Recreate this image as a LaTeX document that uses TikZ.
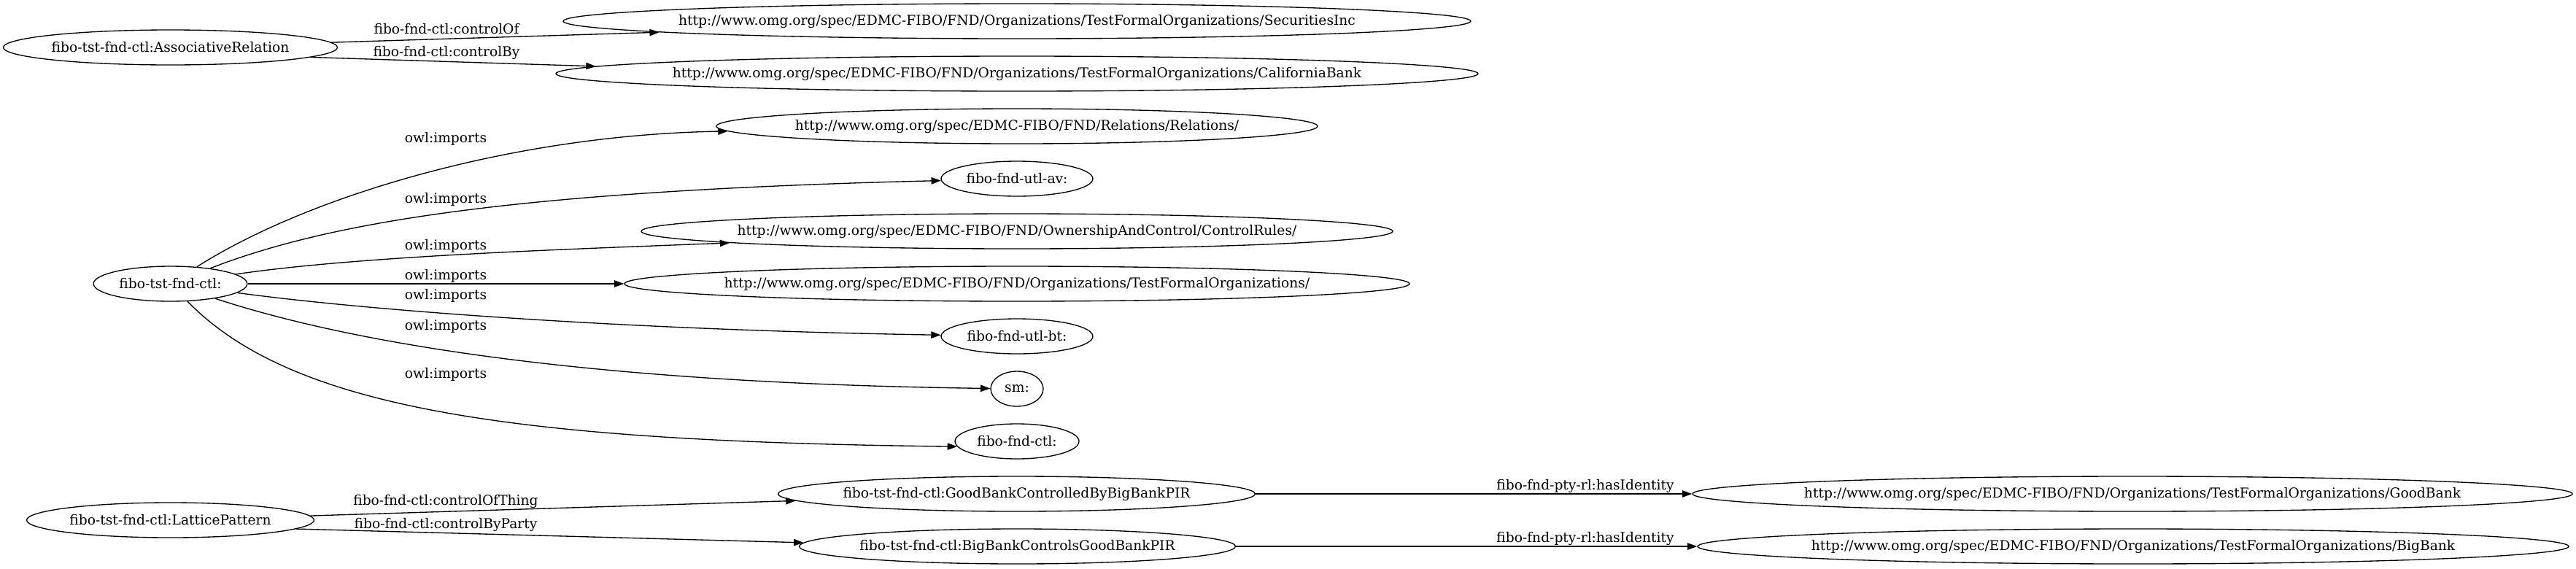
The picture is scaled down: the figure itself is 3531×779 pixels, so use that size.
\documentclass[tikz,border=0pt]{standalone}
\usepackage{fontspec}
\setmainfont{DejaVu Serif}
\usetikzlibrary{arrows.meta,shapes.geometric}

\tikzset{
  ent/.style={draw, ellipse, line width=1pt, inner sep=0pt, minimum height=36pt,
    execute at begin node={\hbox to 0pt\bgroup\hss},
    execute at end node={\hss\egroup}},
  lbl/.style={inner sep=0pt},
  edgeline/.style={line width=1pt, -{Triangle[length=10pt,width=7pt]}},
}

\begin{document}
\begin{tikzpicture}[x=0.75pt,y=-0.75pt,font=\fontsize{14pt}{16pt}\selectfont]
    \useasboundingbox (0,0) rectangle (3531,779) ;
    % left column
    \node [ent, minimum width=343.5pt] (ar) at (233.5,65) {fibo-tst-fnd-ctl:AssociativeRelation} ;
    \node [ent, minimum width=158pt] (tfc) at (233.5,389) {fibo-tst-fnd-ctl:} ;
    \node [ent, minimum width=295.5pt] (lp) at (233.5,713) {fibo-tst-fnd-ctl:LatticePattern} ;
    % middle column
    \node [ent, minimum width=933pt] (si) at (1394,29) {http://www.omg.org/spec/EDMC-FIBO/FND/Organizations/TestFormalOrganizations/SecuritiesInc} ;
    \node [ent, minimum width=948pt] (cb) at (1394,101) {http://www.omg.org/spec/EDMC-FIBO/FND/Organizations/TestFormalOrganizations/CaliforniaBank} ;
    \node [ent, minimum width=618pt] (rel) at (1394,173) {http://www.omg.org/spec/EDMC-FIBO/FND/Relations/Relations/} ;
    \node [ent, minimum width=156pt] (av) at (1394,245) {fibo-fnd-utl-av:} ;
    \node [ent, minimum width=772.5pt] (cr) at (1394,317) {http://www.omg.org/spec/EDMC-FIBO/FND/OwnershipAndControl/ControlRules/} ;
    \node [ent, minimum width=807pt] (tfo) at (1394,389) {http://www.omg.org/spec/EDMC-FIBO/FND/Organizations/TestFormalOrganizations/} ;
    \node [ent, minimum width=156pt] (bt) at (1394,461) {fibo-fnd-utl-bt:} ;
    \node [ent, minimum width=54pt] (sm) at (1394,533) {sm:} ;
    \node [ent, minimum width=127.5pt] (fc) at (1394,605) {fibo-fnd-ctl:} ;
    \node [ent, minimum width=490.5pt] (gbp) at (1393.5,677) {fibo-tst-fnd-ctl:GoodBankControlledByBigBankPIR} ;
    \node [ent, minimum width=448.5pt] (bbp) at (1394.5,749) {fibo-tst-fnd-ctl:BigBankControlsGoodBankPIR} ;
    % right column
    \node [ent, minimum width=904.5pt] (gb) at (2923,677) {http://www.omg.org/spec/EDMC-FIBO/FND/Organizations/TestFormalOrganizations/GoodBank} ;
    \node [ent, minimum width=895.5pt] (bbk) at (2924,749) {http://www.omg.org/spec/EDMC-FIBO/FND/Organizations/TestFormalOrganizations/BigBank} ;
    % edges
    \draw [edgeline] (ar) -- (si) ;
    \draw [edgeline] (ar.-4) -- (cb.179) ;
    \draw [edgeline] (tfc) .. controls (420,270) and (700,185) .. (rel) ;
    \draw [edgeline] (tfc) .. controls (450,305) and (700,262) .. (av) ;
    \draw [edgeline] (tfc) .. controls (500,350) and (800,341) .. (cr) ;
    \draw [edgeline] (tfc) -- (tfo) ;
    \draw [edgeline] (tfc) .. controls (500,425) and (850,452) .. (bt) ;
    \draw [edgeline] (tfc) .. controls (480,470) and (800,525) .. (sm) ;
    \draw [edgeline] (tfc) .. controls (400,560) and (700,605) .. (fc.185) ;
    \draw [edgeline] (lp) -- (gbp) ;
    \draw [edgeline] (lp.-4.2) -- (bbp.179.4) ;
    \draw [edgeline] (gbp) -- (gb) ;
    \draw [edgeline] (bbp) -- (bbk) ;
    % edge labels
    \node [lbl] (l-of) at (612,40) {fibo-fnd-ctl:controlOf} ;
    \node [lbl] (l-by) at (612,72) {fibo-fnd-ctl:controlBy} ;
    \foreach \n/\y in {1/190,2/273,3/337,4/378,5/405,6/447,7/513} {
      \node [lbl] (imp\n) at (611,\y) {owl:imports} ;
    }
    \node [lbl] (l-thing) at (611,687) {fibo-fnd-ctl:controlOfThing} ;
    \node [lbl] (l-party) at (611,719) {fibo-fnd-ctl:controlByParty} ;
    \node [lbl] (l-id1) at (2173,666) {fibo-fnd-pty-rl:hasIdentity} ;
    \node [lbl] (l-id2) at (2173,738) {fibo-fnd-pty-rl:hasIdentity} ;
  \end{tikzpicture}
\end{document}
